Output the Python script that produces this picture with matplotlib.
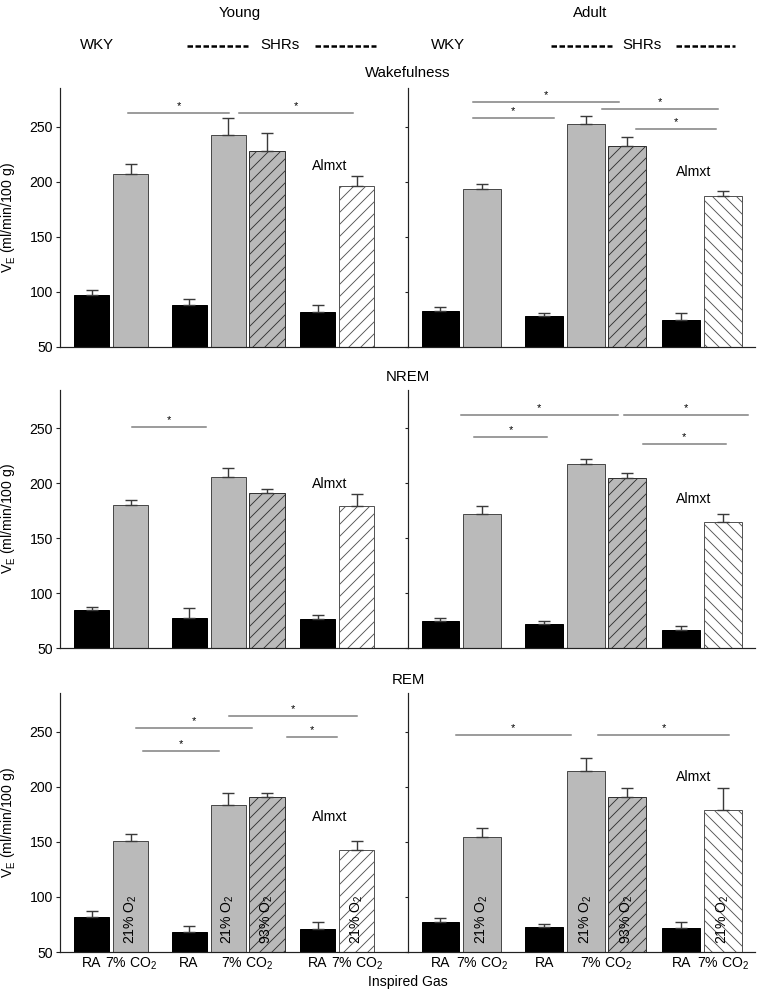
import numpy as np
import matplotlib
matplotlib.use('Agg')
import matplotlib.pyplot as plt
from matplotlib.lines import Line2D

plt.rcParams['font.family'] = ['Liberation Sans', 'DejaVu Sans']
plt.rcParams['mathtext.fontset'] = 'custom'
plt.rcParams['mathtext.rm'] = 'Liberation Sans'
plt.rcParams['mathtext.it'] = 'Liberation Sans:italic'
plt.rcParams['mathtext.bf'] = 'Liberation Sans:bold'
plt.rcParams['hatch.linewidth'] = 0.9

# ---- data
ages = ['Young', 'Adult']
states = ['Wakefulness', 'NREM', 'REM']
bar_pos = [0, 1, 2.5, 3.5, 4.5, 5.8, 6.8]
tick_pos = [0, 1, 2.5, 4.0, 5.8, 6.8]
tick_labels = ['RA', '7% CO$_2$', 'RA', '7% CO$_2$', 'RA', '7% CO$_2$']
gas_labels = ['', '21% O$_2$', '', '21% O$_2$', '93% O$_2$', '', '21% O$_2$']

young_wake = [97, 207, 88, 242, 228, 81.5, 196]
young_wake_err = [5, 9, 6, 16, 16, 7, 9]
adult_wake = [82.7, 193, 78, 252, 232, 74.5, 187]
adult_wake_err = [4, 5, 2.5, 7.5, 8.5, 6, 4.5]
young_nrem = [85, 180, 77.5, 206, 191, 76.5, 179]
young_nrem_err = [2, 5, 8.5, 8, 4, 4, 11]
adult_nrem = [74.5, 172.5, 72, 218, 204.5, 66, 165]
adult_nrem_err = [2.5, 7, 2.5, 4, 4.5, 4, 7]
young_rem = [81.5, 151, 68.5, 183, 191, 71, 143]
young_rem_err = [5.5, 6.5, 5.5, 11, 3.5, 6.5, 8]
adult_rem = [77, 154, 72.5, 214, 190.5, 72, 179]
adult_rem_err = [4, 8.5, 2.7, 12, 8.5, 5, 20]

# significance bars: (from, to, level)
young_wake_sig = [(0.94, 3.52, 262), (3.78, 6.7, 262)]
adult_wake_sig = [(0.78, 4.3, 272), (0.78, 2.73, 258), (3.89, 6.69, 265.5), (4.71, 6.64, 248)]
young_nrem_sig = [(1.04, 2.94, 251)]
adult_nrem_sig = [(0.49, 4.27, 262.5), (0.81, 2.57, 242), (4.42, 7.41, 262.5), (4.87, 6.87, 235.5)]
young_rem_sig = [(1.14, 4.12, 253), (1.32, 3.27, 232), (3.53, 6.81, 264.5), (5.01, 6.29, 245)]
adult_rem_sig = [(0.37, 3.14, 247), (3.8, 6.95, 247)]

almxt_y = [[214.5, 209], [199, 185.5], [172.7, 209]]

values = [[young_wake, adult_wake], [young_nrem, adult_nrem], [young_rem, adult_rem]]
errors = [[young_wake_err, adult_wake_err], [young_nrem_err, adult_nrem_err],
          [young_rem_err, adult_rem_err]]
sigs = [[young_wake_sig, adult_wake_sig], [young_nrem_sig, adult_nrem_sig],
        [young_rem_sig, adult_rem_sig]]

# ---- layout (pixels at dpi 72)
W, H = 760, 990
fig = plt.figure(figsize=(W / 72, H / 72), dpi=72)

col_px = [(60, 348), (408, 347)]
row_px = [(88, 347), (390, 648), (693, 952)]
xlims = [(-0.81, 8.115), (-0.783, 7.578)]
widths = [0.9, 0.915]
gray = '#bababa'
edge_gray = '#4a4a4a'

for r in range(3):
    for c in range(2):
        x0, w = col_px[c]
        top, bot = row_px[r]
        ax = fig.add_axes([x0 / W, 1 - bot / H, w / W, (bot - top) / H])
        vals = values[r][c]
        errs = errors[r][c]
        white_hatch = '//' if c == 0 else '\\\\'
        faces = ['black', gray, 'black', gray, gray, 'black', 'white']
        hatches = [None, None, None, None, '//', None, white_hatch]
        edges = ['black', edge_gray, 'black', edge_gray, '#333333', 'black', '#555555']
        for i in range(7):
            ax.bar(bar_pos[i], vals[i] - 50, bottom=50, width=widths[c],
                   color=faces[i], edgecolor=edges[i], hatch=hatches[i],
                   linewidth=1.0, zorder=2)
        ax.errorbar(bar_pos, vals, yerr=[np.zeros(7), errs], fmt='none',
                    ecolor='#3a3a3a', elinewidth=1.4, capsize=6, capthick=1.4, zorder=3)

        for x1, x2, yl in sigs[r][c]:
            ax.plot([x1, x2], [yl, yl], color='#7d7d7d', lw=1.5, clip_on=False, zorder=3)
            ax.annotate('*', ((x1 + x2) / 2, yl), xytext=(0, 4), textcoords='offset points',
                        ha='center', va='baseline', fontsize=11)

        ax.text(6.1, almxt_y[r][c], 'Almxt', ha='center', va='center', fontsize=14)

        if r == 2:
            for i in range(7):
                if gas_labels[i]:
                    ax.text(bar_pos[i], 57, gas_labels[i], rotation=90, ha='center',
                            va='bottom', fontsize=14, zorder=4)
            ax.set_xticks(tick_pos, tick_labels)
            ax.tick_params(axis='x', length=0, pad=4, labelsize=14)
        else:
            ax.set_xticks([])

        ax.set_xlim(*xlims[c])
        ax.set_ylim(50, 285)
        ax.set_yticks([50, 100, 150, 200, 250])
        ax.tick_params(axis='y', direction='out', length=4, width=1.1, pad=3,
                       labelsize=14, colors='#222222', labelcolor='black')
        if c == 1:
            ax.tick_params(axis='y', labelleft=False, length=3)
        else:
            ax.set_ylabel(r'$\dot{\mathrm{V}}_\mathrm{E}$ (ml/min/100 g)', fontsize=14)
            ax.yaxis.set_label_coords(-0.12, 0.5)
        for s in ['top', 'right']:
            ax.spines[s].set_visible(False)
        for s in ['left', 'bottom']:
            ax.spines[s].set_color('#222222')
            ax.spines[s].set_linewidth(1.2)
        ax.patch.set_alpha(0)


def ftext(x, y, s, **kw):
    fig.text(x / W, 1 - y / H, s, ha='center', va='center', **kw)


ftext(240, 13, 'Young', fontsize=15)
ftext(590, 13, 'Adult', fontsize=15)
ftext(97, 45, 'WKY', fontsize=15)
ftext(448, 45, 'WKY', fontsize=15)
ftext(280, 45, 'SHRs', fontsize=15)
ftext(642, 45, 'SHRs', fontsize=15)
for x1, x2 in [(187, 248), (315, 376), (551, 612), (676, 735)]:
    fig.add_artist(Line2D([x1 / W, x2 / W], [1 - 46 / H, 1 - 46 / H], transform=fig.transFigure,
                          color='black', lw=2.5, linestyle=(0, (2.2, 1.0))))
ftext(408, 73, 'Wakefulness', fontsize=15)
ftext(408, 377, 'NREM', fontsize=15)
ftext(408, 680, 'REM', fontsize=15)
ftext(408, 982, 'Inspired Gas', fontsize=14)

fig.savefig('out.png', dpi=72)
